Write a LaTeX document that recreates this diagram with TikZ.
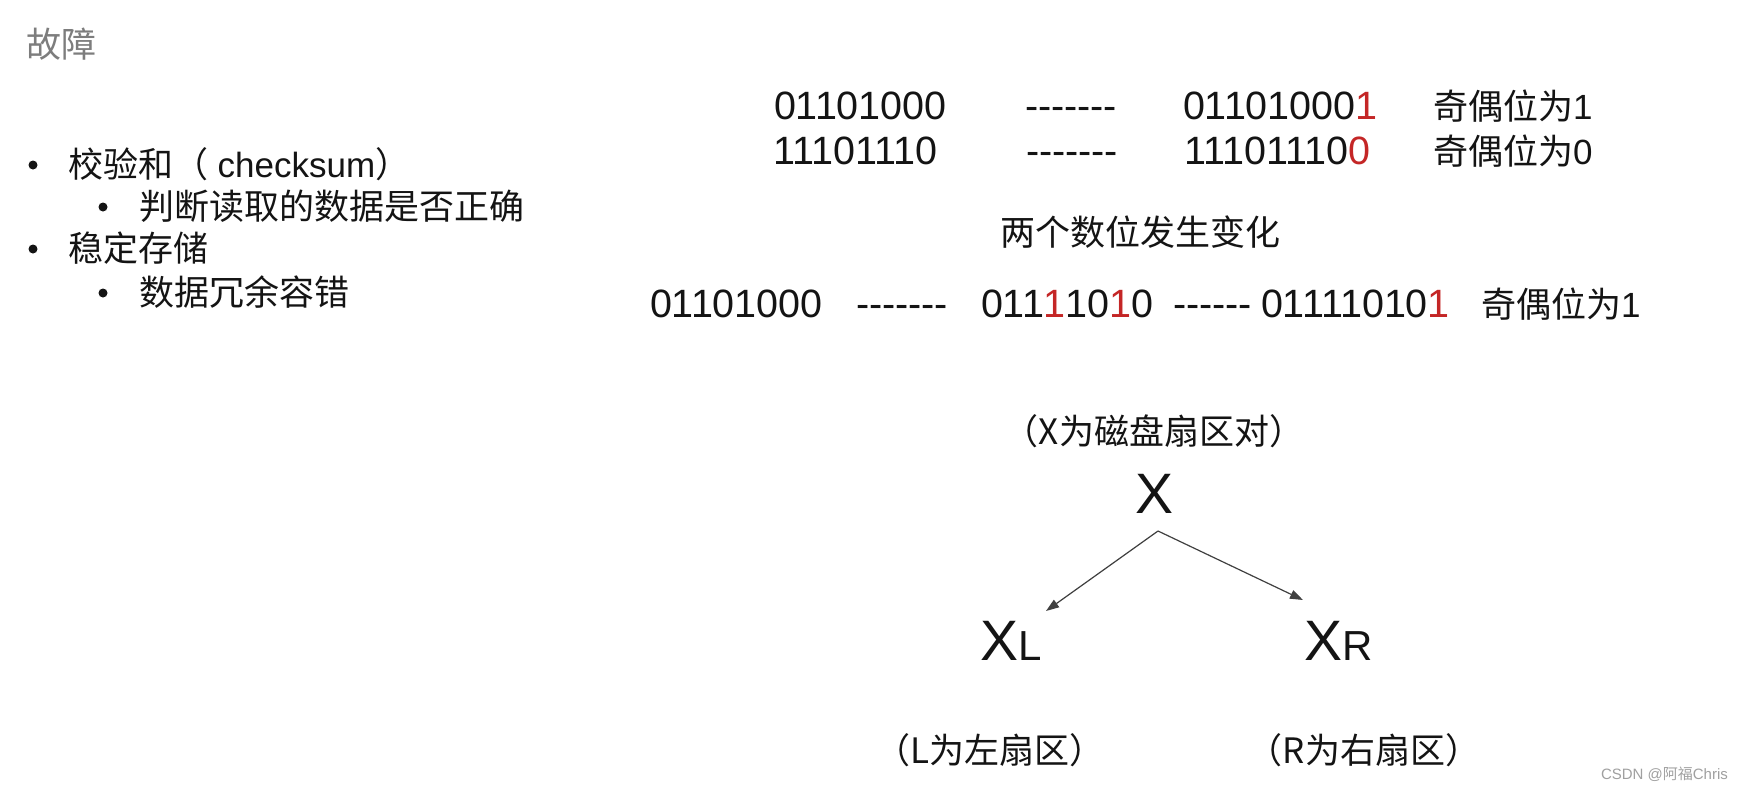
\documentclass[tikz,border=0pt]{standalone}
\usepackage{fontspec}
\setmainfont{Liberation Sans}
\newfontfamily\cjk{Noto Sans CJK SC}
\usetikzlibrary{arrows.meta}
\definecolor{txt}{RGB}{20,20,20}
\definecolor{pr}{RGB}{196,38,38}
\definecolor{ttl}{RGB}{125,125,125}
\definecolor{wmc}{RGB}{160,160,160}
\newcommand\hy{\mbox{-}}
\begin{document}
\begin{tikzpicture}[x=1pt,y=-1pt,
  every node/.style={inner sep=0pt,outer sep=0pt},
  cn/.style={font=\cjk\fontsize{35}{42}\selectfont,text=txt,anchor=base west},
  cnc/.style={font=\cjk\fontsize{35}{42}\selectfont,text=txt,anchor=base},
  dg/.style={font=\fontsize{39.5}{44}\selectfont,text=txt,anchor=base west},
  bigx/.style={font=\fontsize{57}{62}\selectfont,text=txt},
  bul/.style={circle,fill=txt,minimum size=9pt},
  arr/.style={-{Triangle[length=13pt,width=9pt]},line width=1.2pt,draw=black!75}]
\useasboundingbox (0,0) rectangle (1750,792);
\fill[white] (0,0) rectangle (1750,792);

% title
\node[cn,text=ttl] (title) at (26,58) {故障};

% bullets
\node[bul] (b1) at (33,165) {};
\node[cn] (t1) at (68,177) {校验和（\rmfamily\ checksum\cjk ）};
\node[bul] (b11) at (103,207) {};
\node[cn] (t11) at (139,219) {判断读取的数据是否正确};
\node[bul] (b2) at (33,249) {};
\node[cn] (t2) at (68,261) {稳定存储};
\node[bul] (b21) at (103,293) {};
\node[cn] (t21) at (139,305) {数据冗余容错};

% row 1
\node[dg] (r1a) at (774,119) {01101000};
\node[dg] (r1b) at (1025,119) {\hy\hy\hy\hy\hy\hy\hy};
\node[dg] (r1c) at (1183,119) {01101000\textcolor{pr}{1}};
\node[cn] (r1d) at (1433,119) {奇偶位为\rmfamily 1};
% row 2
\node[dg] (r2a) at (773,164) {11101110};
\node[dg] (r2b) at (1026,164) {\hy\hy\hy\hy\hy\hy\hy};
\node[dg] (r2c) at (1184,164) {11101110\textcolor{pr}{0}};
\node[cn] (r2d) at (1433,164) {奇偶位为\rmfamily 0};

\node[cn] (two) at (1000,245) {两个数位发生变化};

% row 3
\node[dg] (r3a) at (650,317) {01101000};
\node[dg] (r3b) at (856,317) {\hy\hy\hy\hy\hy\hy\hy};
\node[dg] (r3c) at (981,317) {011\textcolor{pr}{1}10\textcolor{pr}{1}0};
\node[dg] (r3d) at (1173,317) {\hy\hy\hy\hy\hy\hy};
\node[dg] (r3e) at (1261,317) {01111010\textcolor{pr}{1}};
\node[cn] (r3f) at (1481,317) {奇偶位为\rmfamily 1};

% tree
\node[cnc] (xlab) at (1154,444) {（X为磁盘扇区对）};
\node[bigx,anchor=base] (x) at (1154,513) {X};
\node[bigx,anchor=base west] (xl) at (980,660) {X{\fontsize{42}{46}\selectfont L}};
\node[bigx,anchor=base west] (xr) at (1304,660) {X{\fontsize{42}{46}\selectfont R}};
\coordinate (apex) at (1158,531);
\coordinate (lt) at (1046,611);
\coordinate (rt) at (1303,600);
\draw[arr] (apex) -- (lt);
\draw[arr] (apex) -- (rt);
\node[cnc] (llab) at (990,763) {（L为左扇区）};
\node[cnc] (rlab) at (1364,763) {（R为右扇区）};

% watermark
\node[anchor=base west,font=\fontsize{15}{18}\selectfont,text=wmc] (wm) at (1601,779) {CSDN @{\cjk 阿福}Chris};
\end{tikzpicture}
\end{document}
